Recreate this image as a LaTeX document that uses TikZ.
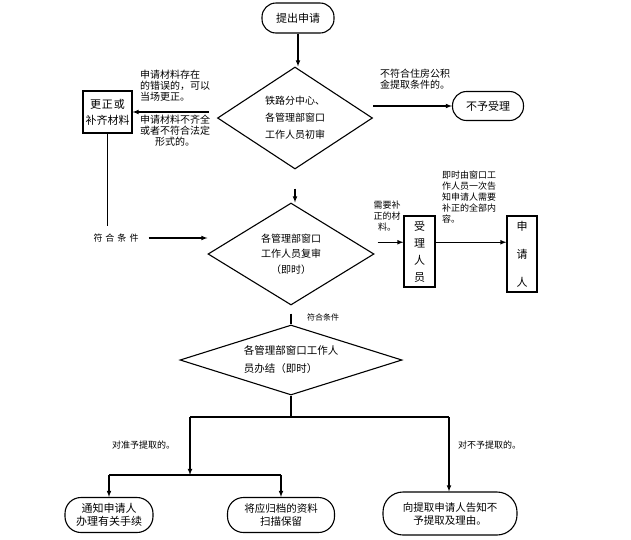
\documentclass[tikz,border=0pt]{standalone}
\usepackage{fontspec}
\setmainfont{Noto Sans CJK SC}
\usepackage{tikz}
\usetikzlibrary{shapes, shapes.geometric, arrows, calc}
\tikzstyle{startstop} = [
    rectangle,
    rounded corners = 14pt,
    draw = black,
    line width = 1.1pt,
    align = center,
    inner sep = 0pt,
    font = \fontsize{11}{13}\selectfont,
]
\tikzstyle{process} = [
    rectangle,
    draw = black,
    line width = 1.1pt,
    align = center,
    inner sep = 0pt,
    font = \fontsize{11}{16}\selectfont,
]
\tikzstyle{decision} = [
    diamond,
    draw = black,
    line width = 1.1pt,
    align = center,
    inner sep = 0pt,
    font = \fontsize{10}{17}\selectfont,
]
\tikzstyle{remark} = [align = left, inner sep = 0pt, font = \fontsize{9}{10.8}\selectfont]
\tikzstyle{link} = [->, >=latex, line width = 1.1pt]
\tikzstyle{plain} = [-, line width = 1.1pt]

\begin{document}
\begin{tikzpicture} [x = 1pt, y = -1pt]
    \useasboundingbox (0,0) rectangle (631,539);

    \node (start) [startstop, minimum width = 72pt, minimum height = 30pt] at (298,18) {提出申请};
    \node (check1) [decision, aspect = 1.52, minimum width = 155pt, minimum height = 102pt] at (295,118) {铁路分中心、\\各管理部窗口\\工作人员初审};
    \node (fix) [process, minimum width = 49pt, minimum height = 42pt] at (107.5,112) {更\hspace{1pt}正\hspace{1pt}或\\补齐材料};
    \node (reject) [startstop, minimum width = 71pt, minimum height = 29pt] at (488,106) {不予受理};
    \node (check2) [decision, aspect = 1.63, minimum width = 166pt, minimum height = 102pt, font = \fontsize{10}{15.5}\selectfont] at (291,254) {各管理部窗口\\工作人员复审\\（即时）};
    \node (clerk) [process, minimum width = 31pt, minimum height = 71pt, font = \fontsize{11}{17}\selectfont] at (419.5,251.5) {受\\理\\人\\员};
    \node (applicant) [process, minimum width = 30pt, minimum height = 76pt, font = \fontsize{11}{28}\selectfont] at (522,254) {申\\请\\人};
    \node (check3) [decision, aspect = 3.17, minimum width = 222pt, minimum height = 70pt, align = left, font = \fontsize{10.5}{18}\selectfont] at (291,360) {各管理部窗口工作人\\员办结（即时）};
    \node (notify) [startstop, minimum width = 88pt, minimum height = 35pt, rounded corners = 16pt] at (109,515) {通知申请人\\办理有关手续};
    \node (archive) [startstop, minimum width = 107pt, minimum height = 35pt, rounded corners = 16pt, font = \fontsize{10.5}{13}\selectfont] at (281,515) {将应归档的资料\\扫描保留};
    \node (refuse) [startstop, minimum width = 134pt, minimum height = 43pt, rounded corners = 20pt, font = \fontsize{10.5}{13}\selectfont] at (450,513.5) {向提取申请人告知不\\予提取及理由。};

    \node (err1) [remark, anchor = north west, font = \fontsize{10}{10.8}\selectfont] at (140,70) {申请材料存在\\的错误的，可以\\当场更正。};
    \node (err2) [remark, align = center, anchor = north, font = \fontsize{10}{11}\selectfont] at (175,115) {申请材料不齐全\\或者不符合法定\\形式的。};
    \node (cond0) [remark, anchor = north west, font = \fontsize{10}{11}\selectfont] at (380,69) {不符合住房公积\\金提取条件的。};
    \node (cond1) [remark] at (116,238) {符\hspace{3pt}合\hspace{3pt}条\hspace{3pt}件};
    \node (need) [remark, align = center, anchor = north] at (387,201) {需要补\\正的材\\料。};
    \node (tell) [remark, anchor = north west] at (442,171) {即时由窗口工\\作人员一次告\\知申请人需要\\补正的全部内\\容。};
    \node (cond2) [remark, anchor = west, font = \fontsize{8}{9}\selectfont] at (307,317) {符合条件};
    \node (yes) [remark, anchor = west] at (112,445) {对准予提取的。};
    \node (no) [remark, anchor = west] at (458,445) {对不予提取的。};

    \coordinate (split) at ($(check3.south) + (0,22)$);
    \coordinate (lbranch) at (190,417);
    \coordinate (rbranch) at (449,417);
    \coordinate (lsplit) at (190,475);

    \draw[link] (start) -- (start |- check1.north);
    \draw[link, shorten <= 8pt] (check1.west |- fix.east) -- (fix.east);
    \draw[link] (check1.east |- reject.west) -- (reject.west);
    \draw[link, shorten <= 19pt] (check1.south) -- (check1.south |- check2.north);
    \draw[plain, shorten >= 8pt] (fix.south) -- (fix.south |- cond1.north);
    \draw[link, shorten <= 10pt] (cond1.east) -- (cond1.east -| check2.west);
    \draw[link, shorten <= 3pt] (check2.east |- clerk.150) -- (clerk.150);
    \draw[link] (clerk.30) -- (clerk.30 -| applicant.west);
    \draw[plain, shorten <= 8pt] (check2.south) -- (check3.north);
    \draw[plain] (check3.south) -- (split);
    \draw[plain] (lbranch) -- (rbranch);
    \draw[link] (lbranch) -- (lsplit);
    \draw[plain] (notify.north |- lsplit) -- (archive.north |- lsplit);
    \draw[link] (notify.north |- lsplit) -- (notify.north);
    \draw[link] (archive.north |- lsplit) -- (archive.north);
    \draw[link] (rbranch) -- (rbranch |- refuse.north);
\end{tikzpicture}
\end{document}
